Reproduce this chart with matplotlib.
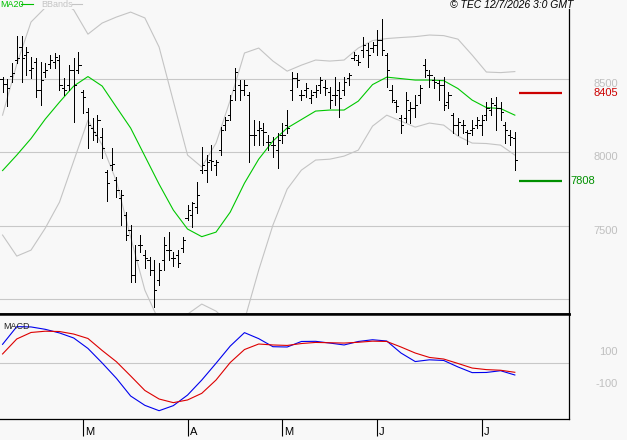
import matplotlib
matplotlib.use("Agg")
import matplotlib.pyplot as plt
import matplotlib.transforms as mtransforms
from matplotlib.lines import Line2D
import numpy as np
import pandas as pd

# trading days (Euronext: Good Friday, Easter Monday, 1 May closed)
dates = pd.bdate_range("2026-02-05", "2026-07-10")
dates = dates.drop(pd.to_datetime(["2026-04-03", "2026-04-06", "2026-05-01"]))

opens = [8502, 8467, 8522, 8632, 8721, 8666, 8563, 8618, 8426, 8550,
         8604, 8618, 8632, 8440, 8461, 8563, 8563, 8413, 8276, 8166,
         8119, 8105, 7866, 7913, 7811, 7688, 7571, 7469, 7161, 7366,
         7298, 7264, 7195, 7127, 7264, 7332, 7277, 7298, 7346, 7551,
         7571, 7626, 7879, 7879, 7948, 7913, 8016, 8187, 8255, 8426,
         8461, 8426, 8392, 8119, 8153, 8153, 8071, 8050, 8016, 8119,
         8187, 8426, 8508, 8392, 8426, 8372, 8413, 8461, 8447, 8413,
         8392, 8426, 8426, 8508, 8645, 8632, 8700, 8700, 8714, 8734,
         8768, 8666, 8426, 8344, 8235, 8235, 8290, 8303, 8392, 8597,
         8529, 8495, 8474, 8461, 8344, 8255, 8187, 8187, 8139, 8153,
         8187, 8187, 8255, 8290, 8324, 8303, 8187, 8119, 8098]
highs = [8515, 8502, 8611, 8796, 8796, 8721, 8652, 8645, 8618, 8611,
         8666, 8679, 8666, 8508, 8597, 8645, 8686, 8426, 8303, 8235,
         8255, 8166, 7879, 8030, 7831, 7742, 7592, 7503, 7366, 7435,
         7332, 7284, 7264, 7243, 7421, 7455, 7318, 7332, 7421, 7640,
         7660, 7797, 8037, 7982, 8050, 7948, 8173, 8242, 8392, 8577,
         8495, 8495, 8413, 8221, 8214, 8201, 8119, 8105, 8132, 8201,
         8290, 8550, 8543, 8426, 8474, 8426, 8461, 8515, 8495, 8447,
         8515, 8481, 8515, 8543, 8686, 8666, 8789, 8748, 8755, 8837,
         8912, 8679, 8461, 8358, 8255, 8413, 8344, 8392, 8461, 8638,
         8563, 8515, 8495, 8515, 8413, 8269, 8235, 8221, 8153, 8221,
         8242, 8255, 8344, 8372, 8379, 8344, 8208, 8153, 8139]
lows = [8413, 8317, 8481, 8611, 8481, 8529, 8508, 8379, 8324, 8515,
        8577, 8577, 8426, 8392, 8426, 8208, 8543, 8269, 8030, 8084,
        8071, 7961, 7667, 7879, 7695, 7503, 7400, 7113, 7113, 7318,
        7209, 7161, 6942, 7093, 7195, 7264, 7223, 7216, 7318, 7537,
        7489, 7585, 7859, 7797, 7879, 7845, 7982, 8153, 8221, 8358,
        8358, 8392, 7934, 8050, 8050, 8050, 8016, 7968, 7893, 8064,
        8132, 8358, 8447, 8358, 8379, 8337, 8379, 8406, 8392, 8303,
        8324, 8242, 8392, 8461, 8632, 8597, 8652, 8584, 8686, 8666,
        8666, 8447, 8344, 8276, 8132, 8208, 8201, 8242, 8337, 8515,
        8447, 8440, 8358, 8290, 8303, 8132, 8119, 8132, 8057, 8119,
        8166, 8119, 8221, 8255, 8153, 8221, 8064, 8050, 7879]
closes = [8467, 8440, 8543, 8645, 8645, 8686, 8577, 8426, 8495, 8563,
          8632, 8652, 8461, 8426, 8563, 8461, 8597, 8379, 8187, 8139,
          8221, 8030, 7790, 7920, 7742, 7708, 7435, 7161, 7264, 7366,
          7277, 7195, 7058, 7195, 7366, 7332, 7277, 7243, 7400, 7606,
          7653, 7708, 7913, 7934, 7941, 7934, 8153, 8221, 8358, 8550,
          8426, 8461, 8119, 8119, 8166, 8139, 8071, 8050, 8084, 8119,
          8166, 8508, 8495, 8392, 8440, 8392, 8426, 8495, 8440, 8358,
          8392, 8372, 8481, 8529, 8666, 8618, 8734, 8666, 8734, 8768,
          8700, 8563, 8358, 8317, 8187, 8358, 8303, 8324, 8440, 8563,
          8529, 8481, 8461, 8324, 8392, 8187, 8208, 8187, 8132, 8166,
          8221, 8221, 8303, 8337, 8303, 8276, 8153, 8105, 7948]

# indicators read every third session
ind_idx = list(range(0, 109, 3))
ma20 = [7876, 7982, 8095, 8228, 8344, 8454, 8519, 8454, 8310, 8167,
        7975, 7783, 7606, 7476, 7424, 7455, 7592, 7790, 7954, 8078,
        8167, 8225, 8283, 8290, 8290, 8351, 8464, 8515, 8505, 8495,
        8495, 8491, 8437, 8358, 8307, 8300, 8255]
bb_upper = [8255, 8604, 8892, 8990, 9040, 8975, 8809, 8885, 8926, 8960,
            8920, 8721, 8351, 7982, 7900, 8064, 8358, 8680, 8714, 8625,
            8556, 8597, 8632, 8625, 8632, 8714, 8765, 8779, 8786, 8792,
            8803, 8799, 8775, 8666, 8550, 8546, 8553]
bb_lower = [7435, 7291, 7332, 7482, 7660, 7941, 8221, 8050, 7804, 7421,
            7058, 6845, 6860, 6894, 6963, 6915, 6826, 6853, 7195, 7503,
            7749, 7879, 7948, 7954, 7975, 8016, 8180, 8255, 8214, 8173,
            8201, 8187, 8112, 8064, 8061, 8050, 7982]
macd = [120, 232, 230, 215, 192, 160, 94, 2, -95, -207,
        -266, -300, -268, -201, -106, 0, 109, 194, 156, 105,
        103, 138, 139, 128, 116, 138, 149, 141, 65, 11,
        22, 18, -23, -59, -58, -47, -74]
signal = [59, 154, 195, 203, 201, 185, 157, 81, 10, -80,
          -172, -226, -249, -232, -190, -106, 5, 87, 122, 116,
          113, 125, 132, 130, 128, 133, 140, 138, 103, 65,
          37, 27, -1, -30, -40, -44, -57]

resistance = 8405
support = 7808
price_grid = [8500, 8000, 7500, 7000]
price_labels = [8500, 8000, 7500]
macd_labels = [100, -100]

BG = "#f8f8f8"
GRID = "#c8c8c8"
LABEL = "#c0c0c0"

plt.rcParams["font.family"] = ["Liberation Sans", "DejaVu Sans"]

fig = plt.figure(figsize=(6.27, 4.40), dpi=100, facecolor=BG)
W, H = 627.0, 440.0
ax = fig.add_axes([0, 1 - 314.3 / H, 569 / W, 305 / H], facecolor=BG)
axm = fig.add_axes([0, 1 - 419 / H, 569 / W, 104.7 / H], facecolor=BG, sharex=ax)

x = np.arange(len(dates))

# price panel
for g in price_grid:
    ax.axhline(g, color=GRID, lw=0.8, zorder=0)
ax.plot(ind_idx, bb_upper, color="#c4c4c4", lw=0.8, zorder=1)
ax.plot(ind_idx, bb_lower, color="#c4c4c4", lw=0.8, zorder=1)
ax.plot(ind_idx, ma20, color="#00c800", lw=0.8, zorder=2)
# OHLC bars: high-low stem, open tick left, close tick right
ax.vlines(x, lows, highs, color="black", lw=0.72, zorder=3, antialiased=False)
ax.hlines(opens, x - 0.45, x, color="black", lw=0.72, zorder=3, antialiased=False)
ax.hlines(closes, x, x + 0.45, color="black", lw=0.72, zorder=3, antialiased=False)
ax.hlines(resistance, 108.9, 117.95, color="#cc0000", lw=1.6, zorder=3)
ax.hlines(support, 108.9, 117.95, color="#009000", lw=1.6, zorder=3)
ax.set_xlim(-0.54, 119.42)
ax.set_ylim(6893, 8979)

for s in ["top", "left"]:
    ax.spines[s].set_visible(False)
ax.spines["right"].set_linewidth(0.9)
ax.spines["bottom"].set_linewidth(1.8)
ax.tick_params(left=False, bottom=False, labelleft=False, labelbottom=False)

tr = mtransforms.blended_transform_factory(fig.transFigure, ax.transData)
for p in price_labels:
    ax.text(593 / W, p, f"{p}", transform=tr, color=LABEL, fontsize=8,
            va="top", ha="left", clip_on=False)
ax.text(593 / W, resistance, f"{resistance}", transform=tr, color="#cc0000",
        fontsize=8, va="center", ha="left", clip_on=False)
ax.text(570 / W, support, f"{support}", transform=tr, color="#009000",
        fontsize=8, va="center", ha="left", clip_on=False)

# MACD panel
axm.axhline(0, color=GRID, lw=0.8, zorder=0)
axm.plot(ind_idx, macd, color="#0000ee", lw=0.8)
axm.plot(ind_idx, signal, color="#dd0000", lw=0.8)
axm.set_ylim(-352.5, 310)
axm.spines["left"].set_visible(False)
axm.spines["top"].set_linewidth(1.8)
axm.spines["right"].set_linewidth(0.9)
axm.spines["bottom"].set_linewidth(0.9)
axm.tick_params(left=False, labelleft=False)
axm.text(3 / 569, 0.88, "MACD", transform=axm.transAxes,
         fontsize=6.5, color="#202020", va="center", ha="left")

trm = mtransforms.blended_transform_factory(fig.transFigure, axm.transData)
for v in macd_labels:
    axm.text(618 / W, v, f"{v}", transform=trm, color=LABEL, fontsize=8,
             va="top", ha="right", clip_on=False)

# month ticks
month_pos = [i for i in range(1, len(dates)) if dates[i].month != dates[i - 1].month]
axm.set_xticks(month_pos)
axm.set_xticklabels([])
axm.tick_params(axis="x", direction="out", length=12, width=0.8, color="black")
for i in month_pos:
    axm.annotate(dates[i].strftime("%B")[0], xy=(i, 0), xycoords=("data", "axes fraction"),
                 xytext=(2, -13), textcoords="offset pixels", fontsize=8,
                 ha="left", va="center")

# header
fig.text(0, 1 - 4.5 / H, "MA20", color="#00c000", fontsize=6.5, va="center", ha="left")
fig.add_artist(Line2D([21 / W, 33 / W], [1 - 4.5 / H] * 2, color="#00c000", lw=0.8))
fig.text(41 / W, 1 - 4.5 / H, "BBands", color="#c4c4c4", fontsize=6.5, va="center", ha="left")
fig.add_artist(Line2D([72 / W, 82 / W], [1 - 4.5 / H] * 2, color="#c4c4c4", lw=0.8))
fig.text(573 / W, 1 - 4.5 / H, "\u00a9 TEC 12/7/2026 3:0 GMT", color="black",
         fontsize=7.5, style="italic", va="center", ha="right")

fig.savefig("out.png", dpi=100, facecolor=BG)
